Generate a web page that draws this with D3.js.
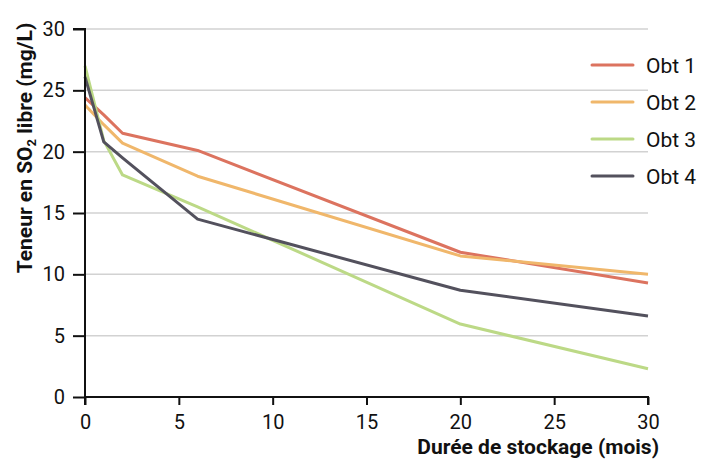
<!DOCTYPE html>
<html><head><meta charset="utf-8">
<script src="https://cdn.jsdelivr.net/npm/d3@7"></script>
<style>
html,body{margin:0;padding:0;background:#fff;}
svg{display:block;font-family:Roboto,"Liberation Sans",sans-serif;}
</style></head>
<body><svg id="c" width="711" height="470"></svg>
<script>
const months = [0, 1, 2, 6, 20, 30];
const seriesNames = ["Obt 1", "Obt 2", "Obt 3", "Obt 4"];
const obt1 = [24.4, 23.0, 21.5, 20.1, 11.8, 9.3];
const obt2 = [23.8, 22.2, 20.7, 18.0, 11.5, 10.0];
const obt3 = [27.0, 20.9, 18.1, 15.5, 5.95, 2.3];
const obt4 = [26.1, 20.8, 19.5, 14.5, 8.7, 6.6];
const colors = ["#dc735f", "#f0b76b", "#bcd986", "#53515d"];
const xTicks = [0, 5, 10, 15, 20, 25, 30];
const yTicks = [0, 5, 10, 15, 20, 25, 30];

const svg = d3.select("#c");
const x = d3.scaleLinear().domain([0, 30]).range([85, 648]);
const y = d3.scaleLinear().domain([0, 30]).range([397, 29]);

// gridlines
svg.append("g").selectAll("line").data(yTicks.filter(d => d > 0)).join("line")
  .attr("x1", x(0)).attr("x2", x(30))
  .attr("y1", d => y(d)).attr("y2", d => y(d))
  .attr("stroke", "#d2d2d2").attr("stroke-width", 1.5);

// series lines
const data = [obt1, obt2, obt3, obt4];
const line = d3.line().x((d, i) => x(months[i])).y(d => y(d));
svg.append("g").selectAll("path").data(data).join("path")
  .attr("d", d => line(d))
  .attr("fill", "none")
  .attr("stroke", (d, i) => colors[i])
  .attr("stroke-width", 3)
  .attr("stroke-linejoin", "round");

// axes
const xAxis = svg.append("g").attr("transform", `translate(0,${y(0)})`)
  .call(d3.axisBottom(x).tickValues(xTicks).tickSize(8).tickPadding(10).tickFormat(d3.format("d")));
const yAxis = svg.append("g").attr("transform", `translate(${x(0)},0)`)
  .call(d3.axisLeft(y).tickValues(yTicks).tickSize(12).tickPadding(8).tickFormat(d3.format("d")));
[xAxis, yAxis].forEach(a => {
  a.select(".domain").attr("stroke", "#111").attr("stroke-width", 2);
  a.selectAll(".tick line").attr("stroke", "#111").attr("stroke-width", 2);
  a.selectAll(".tick text").attr("fill", "#111").style("font-size", "20px")
    .style("font-family", "Roboto, sans-serif");
});
xAxis.select(".domain").attr("d", `M${x(0)},8V0H${x(30)}V8`);
yAxis.select(".domain").attr("d", `M-12,${y(30)}H0V${y(0)}`);

// axis titles
svg.append("text").attr("x", 659).attr("y", 454).attr("text-anchor", "end")
  .style("font-weight", "bold").style("font-size", "21px").attr("fill", "#111")
  .text("Durée de stockage (mois)");

const yt = svg.append("text").attr("transform", "translate(32,148) rotate(-90)")
  .attr("text-anchor", "middle").style("font-weight", "bold").style("font-size", "21px").attr("fill", "#111");
yt.append("tspan").text("Teneur en SO");
yt.append("tspan").attr("dy", 4).style("font-size", "13px").text("2");
yt.append("tspan").attr("dy", -4).text(" libre (mg/L)");

// legend
const lg = svg.append("g").selectAll("g").data(seriesNames).join("g")
  .attr("transform", (d, i) => `translate(592,${65 + i * 37})`);
lg.append("line").attr("x1", 0).attr("x2", 41).attr("y1", 0).attr("y2", 0)
  .attr("stroke", (d, i) => colors[i]).attr("stroke-width", 3).attr("stroke-linecap", "round");
lg.append("text").attr("x", 54).attr("y", 7.5).style("font-size", "21px").attr("fill", "#111")
  .text(d => d);
</script></body></html>
